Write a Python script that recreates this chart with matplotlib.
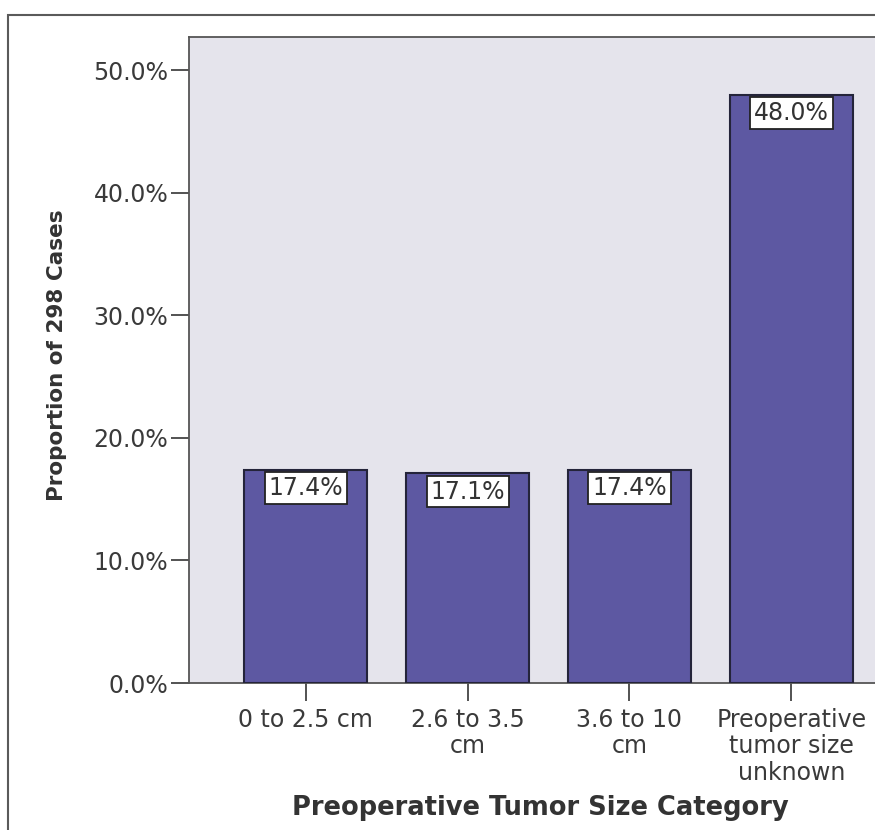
import matplotlib
matplotlib.use("Agg")
import matplotlib.pyplot as plt
from matplotlib.patches import Rectangle

# Data
categories = ["0 to 2.5 cm", "2.6 to 3.5\ncm", "3.6 to 10\ncm",
              "Preoperative\ntumor size\nunknown"]
proportions = [17.4, 17.1, 17.4, 48.0]
y_ticks = [0, 10, 20, 30, 40, 50]
y_tick_labels = ["0.0%", "10.0%", "20.0%", "30.0%", "40.0%", "50.0%"]
value_labels = ["17.4%", "17.1%", "17.4%", "48.0%"]

plt.rcParams["font.family"] = ["DejaVu Sans"]

W, H = 875, 830
fig = plt.figure(figsize=(W / 100, H / 100), dpi=100, facecolor="white")

# Outer chart frame (runs off the right and bottom edges)
fig.add_artist(Rectangle((8 / W, -0.2), 1.5, 1.2 - 15 / H,
                         transform=fig.transFigure, fill=False,
                         edgecolor="#5a5a5a", linewidth=1.5))

ax = fig.add_axes([189 / W, (H - 683) / H, 719 / W, (683 - 37) / H])
ax.set_facecolor("#e5e4ec")

x = list(range(len(categories)))
ax.bar(x, proportions, width=0.755, color="#5d58a2",
       edgecolor="#24243a", linewidth=1.5, zorder=3)

for xi, v, lab in zip(x, proportions, value_labels):
    ax.annotate(lab, xy=(xi, v), xytext=(0, -4.5), textcoords="offset points",
                ha="center", va="top", fontsize=17, color="#333333",
                bbox=dict(boxstyle="square,pad=0.16", fc="white",
                          ec="#222222", lw=1.3),
                zorder=4)

ax.set_xlim(-0.72, 3.72)
ax.set_ylim(0, 52.7)
ax.set_yticks(y_ticks)
ax.set_yticklabels(y_tick_labels)
ax.set_xticks(x)
ax.set_xticklabels(categories, linespacing=1.13)

ax.tick_params(axis="both", direction="out", length=13, width=1.3,
               color="#444444", labelsize=17, labelcolor="#3a3a3a")
ax.tick_params(axis="y", pad=2)
ax.tick_params(axis="x", pad=5)

for side in ["left", "top", "bottom", "right"]:
    ax.spines[side].set_color("#555555")
    ax.spines[side].set_linewidth(1.3)

ax.set_xlabel("Preoperative Tumor Size Category", fontsize=18.5,
              fontweight="bold", color="#333333", va="center")
ax.xaxis.set_label_coords((540 - 189) / 719, (683 - 808) / 646)
ax.set_ylabel("Proportion of 298 Cases", fontsize=15.5, fontweight="bold",
              color="#333333", va="center", ha="center")
ax.yaxis.set_label_coords((57 - 189) / 719, (683 - 355) / 646)

fig.savefig("out.png", dpi=100, facecolor="white")
